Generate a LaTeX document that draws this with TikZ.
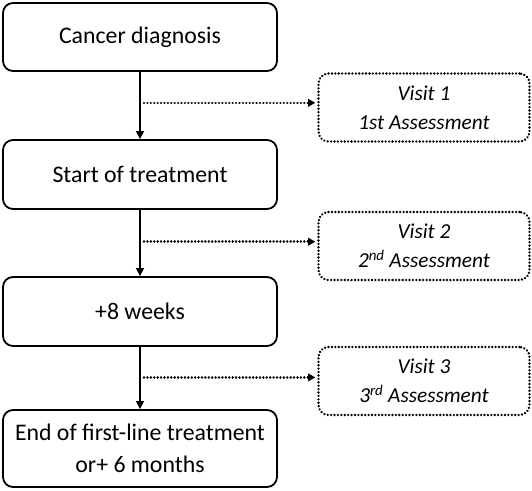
\documentclass[tikz,border=0pt]{standalone}
\usepackage{fontspec}
\setmainfont{Carlito}
\usetikzlibrary{arrows.meta,calc}
\begin{document}
\begin{tikzpicture}[x=1pt,y=-1pt,
  mainbox/.style={draw=black,line width=1.8pt,rounded corners=10pt,align=center,font=\fontsize{23.8}{32}\selectfont,inner sep=0pt},
  visitbox/.style={draw=black,line width=2.6pt,dash pattern=on 0.01pt off 3.4pt,line cap=round,rounded corners=10pt,align=center,font=\itshape\fontsize{21.3}{29}\selectfont,inner sep=0pt},
  flow/.style={line width=1.5pt,-{Triangle[length=8pt,width=8pt]}},
  visitarrow/.style={line width=2.6pt,dash pattern=on 0.01pt off 3.4pt,line cap=round,-{Triangle[length=7pt,width=8pt,line cap=butt,line width=0pt]}}
]
\useasboundingbox (0,0) rectangle (532,490);
\node[mainbox,minimum width=274pt,minimum height=68pt] (b1) at (140,37) {Cancer diagnosis};
\node[mainbox,minimum width=274pt,minimum height=69pt] (b2) at (140,174.5) {Start of treatment};
\node[mainbox,minimum width=274pt,minimum height=69pt] (b3) at (140,311.5) {+8 weeks};
\node[mainbox,minimum width=274pt,minimum height=77pt] (b4) at (140,448.5) {End of first-line treatment\\or+ 6 months};
\node[visitbox,minimum width=211pt,minimum height=68pt] (v1) at (424,107.5) {Visit 1\\1st Assessment};
\node[visitbox,minimum width=211pt,minimum height=68pt] (v2) at (424,246) {Visit 2\\2\textsuperscript{nd} Assessment};
\node[visitbox,minimum width=211pt,minimum height=68pt] (v3) at (424,381) {Visit 3\\3\textsuperscript{rd} Assessment};
\draw[flow] (b1) -- (b2);
\draw[flow] (b2) -- (b3);
\draw[flow] (b3) -- (b4);
\coordinate (j1) at ($(b1.south)!0.46!(b2.north)$);
\coordinate (j2) at ($(b2.south)!0.48!(b3.north)$);
\coordinate (j3) at ($(b3.south)!0.49!(b4.north)$);
\draw[visitarrow] ([xshift=4pt]j1) -- ([xshift=-2pt]j1 -| v1.west);
\draw[visitarrow] ([xshift=4pt]j2) -- ([xshift=-2pt]j2 -| v2.west);
\draw[visitarrow] ([xshift=4pt]j3) -- ([xshift=-2pt]j3 -| v3.west);
\end{tikzpicture}
\end{document}
